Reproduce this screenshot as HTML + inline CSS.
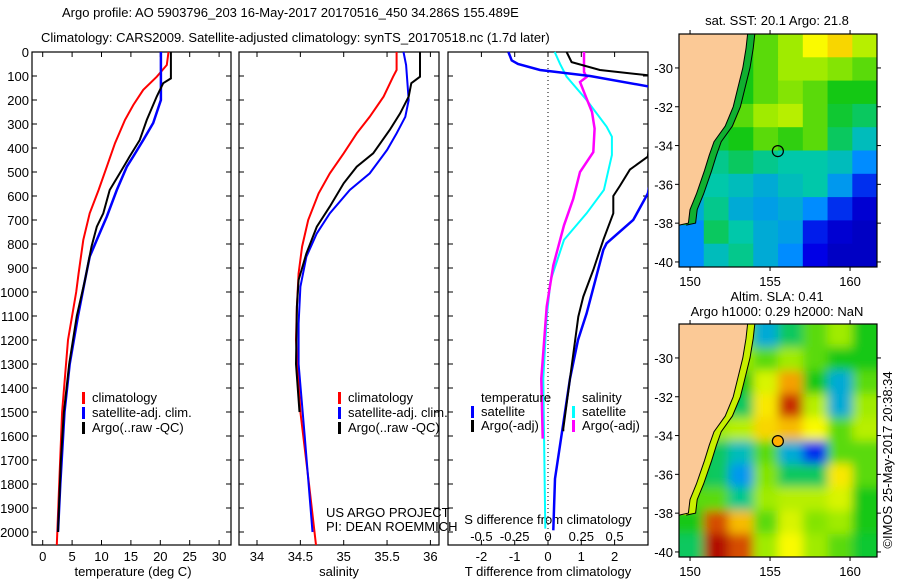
<!DOCTYPE html>
<html><head><meta charset="utf-8"><style>
body{margin:0;background:#fff;}
svg{display:block;font-family:"Liberation Sans",sans-serif;}
text{font-size:13px;fill:#000;}
</style></head><body>
<svg id="fig" width="900" height="580" viewBox="0 0 900 580">
<defs>
<clipPath id="c1"><rect x="32" y="36" width="199" height="509"/></clipPath>
<clipPath id="c2"><rect x="239" y="36" width="200" height="509"/></clipPath>
<clipPath id="c3"><rect x="448" y="36" width="200" height="509"/></clipPath>
<clipPath id="cm1"><rect x="679" y="34" width="198" height="233"/></clipPath>
<clipPath id="cm2"><rect x="679" y="324" width="198" height="233"/></clipPath>
<filter id="blur" x="-5%" y="-5%" width="110%" height="110%"><feGaussianBlur stdDeviation="5"/></filter>
</defs>
<text x="62" y="17">Argo profile: AO 5903796_203 16-May-2017 20170516_450 34.286S 155.489E</text>
<text x="41" y="42">Climatology: CARS2009. Satellite-adjusted climatology: synTS_20170518.nc (1.7d later)</text>
<g id="g"></g>
</svg>
<script>
// ---------- data ----------
const depthTicks=[0,100,200,300,400,500,600,700,800,900,1000,1100,1200,1300,1400,1500,1600,1700,1800,1900,2000];
const tempTicks=[0,5,10,15,20,25,30];
const salTicks=[34,34.5,35,35.5,36];
const salTickLabels=["34","34.5","35","35.5","36"];
const tdTicks=[-2,-1,0,1,2];
const sdTicks=[-0.5,-0.25,0,0.25,0.5];
const sdTickLabels=["-0.5","-0.25","0","0.25","0.5"];

const tClimD=[0,54,103,158,221,283,380,478,575,672,783,922,1000,1200,1500,1800,2054];
const tClimV=[21.4,21.1,19.4,17.1,15.4,14.0,12.3,10.9,9.5,8.0,6.9,6.1,5.7,4.3,3.3,2.8,2.4];
const tSatD=[0,200,296,367,435,478,575,686,783,853,950,1100,1300,1500,1800,2000];
const tSatV=[20.1,20.1,18.8,17.1,15.4,14.3,12.6,10.9,9.2,8.0,7.2,6.0,4.6,3.7,3.0,2.6];
const tArgoD=[0,110,130,185,283,367,435,506,575,672,728,811,950,1100,1300,1500,1700,2000];
const tArgoV=[21.8,21.8,20.5,19.4,17.7,16.5,14.8,13.1,11.4,10.3,9.2,8.3,7.2,5.8,4.5,3.6,3.1,2.6];

const sClimD=[0,75,103,186,270,339,422,506,589,700,811,922,1061,1200,1500,1800,2054];
const sClimV=[35.61,35.61,35.57,35.46,35.30,35.15,35.0,34.84,34.71,34.59,34.52,34.48,34.46,34.45,34.50,34.60,34.68];
const sSatD=[0,54,200,270,339,408,506,575,672,756,853,978,1131,1300,1600,2000];
const sSatV=[35.69,35.72,35.75,35.71,35.61,35.50,35.30,35.07,34.84,34.69,34.57,34.50,34.48,34.48,34.55,34.64];
const sArgoD=[0,103,130,186,256,325,422,478,547,644,728,839,950,1061,1300,1500];
const sArgoV=[35.88,35.88,35.78,35.75,35.65,35.53,35.34,35.15,35.0,34.84,34.69,34.57,34.48,34.46,34.45,34.49];

const tdSatD=[0,35,50,75,100,158,589,700,797,825,1089,1200,1361,1778,1993];
const tdSatV=[-1.19,-1.09,-0.9,-0.24,1.26,3.6,3.0,2.56,1.76,1.66,1.16,0.9,0.66,0.21,0.16];
const tdArgoD=[0,42,75,100,436,490,558,600,672,783,908,1019,1103,1569,1580];
const tdArgoV=[0.56,0.71,1.56,3.2,3.0,2.46,2.16,1.96,1.96,1.66,1.36,1.06,0.91,0.46,0.46];
const sdSatD=[0,49,103,200,311,353,429,575,672,783,950,1103,1361,1986];
const sdSatV=[0.05,0.09,0.14,0.29,0.44,0.48,0.48,0.42,0.29,0.12,0.02,-0.01,-0.035,-0.02];
const sdArgoD=[0,83,104,125,194,250,319,417,500,611,722,889,1061,1361,1611];
const sdArgoV=[0.27,0.27,0.29,0.24,0.29,0.33,0.35,0.34,0.24,0.19,0.12,0.04,-0.01,-0.05,-0.04];

const lonTicks=[150,155,160];
const latTicks=[-30,-32,-34,-36,-38,-40];
const sstGrid=[
[0.5,0.5,0.5,0.55,0.6,0.68,0.72,0.62],
[0.5,0.5,0.5,0.55,0.6,0.6,0.58,0.55],
[0.5,0.5,0.5,0.55,0.58,0.55,0.5,0.5],
[0.5,0.5,0.55,0.6,0.62,0.55,0.48,0.45],
[0.5,0.48,0.5,0.55,0.52,0.55,0.45,0.38],
[0.45,0.42,0.45,0.42,0.4,0.4,0.38,0.3],
[0.4,0.4,0.38,0.35,0.38,0.4,0.32,0.2],
[0.35,0.42,0.35,0.33,0.35,0.3,0.2,0.12],
[0.3,0.45,0.4,0.35,0.33,0.18,0.12,0.1],
[0.3,0.38,0.42,0.35,0.3,0.15,0.1,0.1]];
const slaGrid=[
[0.5,0.5,0.55,0.35,0.45,0.55,0.6,0.5],
[0.5,0.5,0.6,0.55,0.6,0.55,0.5,0.5],
[0.5,0.5,0.5,0.65,0.78,0.5,0.35,0.55],
[0.5,0.55,0.45,0.7,0.88,0.62,0.35,0.6],
[0.55,0.6,0.62,0.72,0.75,0.68,0.55,0.62],
[0.5,0.45,0.38,0.55,0.35,0.2,0.55,0.55],
[0.5,0.45,0.32,0.58,0.45,0.45,0.7,0.55],
[0.55,0.55,0.42,0.6,0.62,0.62,0.65,0.5],
[0.5,0.85,0.75,0.55,0.65,0.58,0.6,0.5],
[0.45,0.92,0.85,0.6,0.68,0.6,0.55,0.48]];
const coastLon=[153.6,153.5,153.3,153.0,152.7,152.2,151.5,151.2,150.9,150.4,150.0,149.9,149.31];
const coastLat=[-28.25,-29,-30,-31,-32,-33,-33.8,-34.5,-35.3,-36.5,-37.3,-38,-38.1];
const argoLon=155.489, argoLat=-34.286;

// ---------- helpers ----------
const NS="http://www.w3.org/2000/svg";
const G=document.getElementById('g');
function mk(tag,attrs,parent){const e=document.createElementNS(NS,tag);for(const k in attrs)e.setAttribute(k,attrs[k]);(parent||G).appendChild(e);return e;}
function txt(x,y,s,anchor,parent){const t=mk('text',{x:x,y:y,'text-anchor':anchor||'start'},parent);t.textContent=s;return t;}
const yD=d=>52+0.24*d;
const xT=v=>42.7+v*5.88;
const xS=v=>257+(v-34)*86.7;
const xTD=v=>548+v*33.3;
const xSD=v=>548+v*133.2;
const mxL=l=>679+(l-149.31)*16.0;
const myL1=l=>34+(-28.25-l)*19.4;
const myL2=l=>324+(-28.25-l)*19.4;

function panel(x0,x1,name){
  const r=mk('rect',{x:x0,y:52,width:x1-x0,height:493,fill:'none',stroke:'#000','stroke-width':1.2});
  
  
  depthTicks.forEach(d=>{mk('line',{x1:x0,x2:x0+5,y1:yD(d),y2:yD(d),stroke:'#000'});mk('line',{x1:x1,x2:x1-5,y1:yD(d),y2:yD(d),stroke:'#000'});});
}
function xticks(vals,labels,sc,name){
  const gg=mk('g',{});
  
  
  vals.forEach((v,i)=>{const x=sc(v);mk('line',{x1:x,x2:x,y1:545,y2:540,stroke:'#000'},gg);mk('line',{x1:x,x2:x,y1:52,y2:57,stroke:'#000'},gg);txt(x,561,labels[i],'middle',gg);});
}
function line(D,V,sc,color,w,clip,name){
  const pts=D.map((d,i)=>sc(V[i]).toFixed(1)+','+yD(d).toFixed(1)).join(' ');
  const p=mk('polyline',{points:pts,fill:'none',stroke:color,'stroke-width':w,'clip-path':'url(#'+clip+')'});
  
  
}
function legend(x,y,color,label,name){
  const gg=mk('g',{});
  
  
  mk('rect',{x:x,y:y-10,width:3,height:12,fill:color},gg);
  txt(x+10,y,label,'start',gg);
}

// depth labels
const yl=mk('g',{});


depthTicks.forEach(d=>txt(29,yD(d)+5,String(d),'end',yl));

// panel 1
panel(32,231,'temperature-panel');
xticks(tempTicks,tempTicks.map(String),xT,'temperature-x-axis');
txt(133,576,'temperature (deg C)','middle');
line(tClimD,tClimV,xT,'#f00',2,'c1','temp-climatology-line');
line(tSatD,tSatV,xT,'#00f',2.5,'c1','temp-satellite-line');
line(tArgoD,tArgoV,xT,'#000',2,'c1','temp-argo-line');
legend(82,402,'#f00','climatology','legend-climatology-1');
legend(82,417,'#00f','satellite-adj. clim.','legend-satellite-1');
legend(82,432,'#000','Argo(..raw -QC)','legend-argo-1');

// panel 2
panel(239,439,'salinity-panel');
xticks(salTicks,salTickLabels,xS,'salinity-x-axis');
txt(339,576,'salinity','middle');
line(sClimD,sClimV,xS,'#f00',2,'c2','sal-climatology-line');
line(sSatD,sSatV,xS,'#00f',2,'c2','sal-satellite-line');
line(sArgoD,sArgoV,xS,'#000',2,'c2','sal-argo-line');
legend(338,402,'#f00','climatology','legend-climatology-2');
legend(338,417,'#00f','satellite-adj. clim.','legend-satellite-2');
legend(338,432,'#000','Argo(..raw -QC)','legend-argo-2');
txt(326,517,'US ARGO PROJECT');
txt(326,531,'PI: DEAN ROEMMICH');

// panel 3
panel(448,648,'difference-panel');
mk('line',{x1:548,x2:548,y1:52,y2:545,stroke:'#000','stroke-dasharray':'1,3'});
xticks(tdTicks,tdTicks.map(String),xTD,'t-difference-x-axis');
const sg=mk('g',{});


sdTicks.forEach((v,i)=>txt(xSD(v),541,sdTickLabels[i],'middle',sg));
txt(548,524,'S difference from climatology','middle',sg);
txt(548,576,'T difference from climatology','middle');
line(sdSatD,sdSatV,xSD,'#0ff',2,'c3','sdiff-satellite-line');
line(sdArgoD,sdArgoV,xSD,'#f0f',2.5,'c3','sdiff-argo-line');
line(tdSatD,tdSatV,xTD,'#00f',2.5,'c3','tdiff-satellite-line');
line(tdArgoD,tdArgoV,xTD,'#000',2,'c3','tdiff-argo-line');
txt(481,402,'temperature');
txt(582,402,'salinity');
legend(471,416,'#00f','satellite','legend-t-satellite');
legend(471,430,'#000','Argo(-adj)','legend-t-argo');
legend(572,416,'#0ff','satellite','legend-s-satellite');
legend(572,430,'#f0f','Argo(-adj)','legend-s-argo');

// ---------- maps ----------
const cmapStops=[[0,[0,0,128]],[0.15,[0,0,230]],[0.3,[0,140,255]],[0.4,[0,200,170]],[0.5,[20,200,20]],[0.6,[160,235,0]],[0.68,[250,250,0]],[0.78,[245,160,0]],[0.9,[190,20,0]],[1,[128,0,0]]];
function jet(v){
  for(let i=1;i<cmapStops.length;i++){
    if(v<=cmapStops[i][0]){
      const a=cmapStops[i-1],b=cmapStops[i],t=(v-a[0])/(b[0]-a[0]);
      const c=a[1].map((x,k)=>Math.round(x+(b[1][k]-x)*t));
      return 'rgb('+c.join(',')+')';
    }
  }
  return 'rgb(128,0,0)';
}
function map(grid,myL,clip,name,blur,y0){
  const gg=mk('g',{'clip-path':'url(#'+clip+')'});
  
  
  const inner=mk('g',blur?{filter:'url(#blur)'}:{},gg);
  const nr=grid.length,nc=grid[0].length;
  const lonW=(161.69-149.31)/nc, latH=(40.26-28.25)/nr;
  if(blur) mk('rect',{x:660,y:y0-20,width:240,height:280,fill:jet(0.55)},inner);
  grid.forEach((row,r)=>row.forEach((v,c)=>{
    const lo=149.31+c*lonW, la=-28.25-r*latH;
    const x=mxL(lo), y=myL(la);
    const cell=mk('rect',{x:x-(blur?(c==0?20:0):0),y:y-(blur&&r==0?20:0),width:mxL(lo+lonW)-x+(blur&&c==0?20:0)+(blur&&c==nc-1?20:0)+0.5,height:myL(la-latH)-y+(blur&&r==0?20:0)+(blur&&r==nr-1?20:0)+0.5,fill:jet(v)},inner);
    
    
  }));
  const shelf=coastLon.map((l,i)=>mxL(l+0.45).toFixed(1)+','+myL(coastLat[i]).toFixed(1)).join(' ');
  const coast=coastLon.map((l,i)=>mxL(l).toFixed(1)+','+myL(coastLat[i]).toFixed(1)).join(' ');
  mk('polygon',{points:coast+' '+coastLon.slice().reverse().map((l,i)=>mxL(coastLon[coastLon.length-1-i]+0.45).toFixed(1)+','+myL(coastLat[coastLon.length-1-i]).toFixed(1)).join(' '),fill:blur?'#c8f000':'#10b030'},gg);
  mk('polyline',{points:shelf,fill:'none',stroke:'#000','stroke-width':1},gg);
  const land=mk('polygon',{points:'679,'+myL(-28.25)+' '+coast+' 679,'+myL(-38.1),fill:'#fbc996'},gg);
  
  
  mk('polyline',{points:coast,fill:'none',stroke:'#000','stroke-width':1},gg);
  const ci=mk('circle',{cx:mxL(argoLon),cy:myL(argoLat),r:5.5,fill:blur?'#ffb000':'none',stroke:'#000','stroke-width':1.2});
  
  
  mk('rect',{x:679,y:y0,width:198,height:233,fill:'none',stroke:'#000','stroke-width':1.2});
  lonTicks.forEach(l=>{const x=mxL(l);mk('line',{x1:x,x2:x,y1:y0,y2:y0-4,stroke:'#000'});mk('line',{x1:x,x2:x,y1:y0+233,y2:y0+237,stroke:'#000'});txt(x,y0+252,String(l),'middle');});
  latTicks.forEach(l=>{const y=myL(l);mk('line',{x1:877,x2:881,y1:y,y2:y,stroke:'#000'});mk('line',{x1:679,x2:675,y1:y,y2:y,stroke:'#000'});txt(673,y+5,String(l),'end');});
}
map(sstGrid,myL1,'cm1','sst-map',false,34);
map(slaGrid,myL2,'cm2','sla-map',true,324);
txt(777,25,'sat. SST: 20.1 Argo: 21.8','middle');
txt(777,301,'Altim. SLA: 0.41','middle');
txt(777,316,'Argo h1000: 0.29 h2000: NaN','middle');
const cr=txt(0,0,'©IMOS 25-May-2017 20:38:34','middle');
cr.setAttribute('transform','translate(892,460) rotate(-90)');

</script>
</body></html>
